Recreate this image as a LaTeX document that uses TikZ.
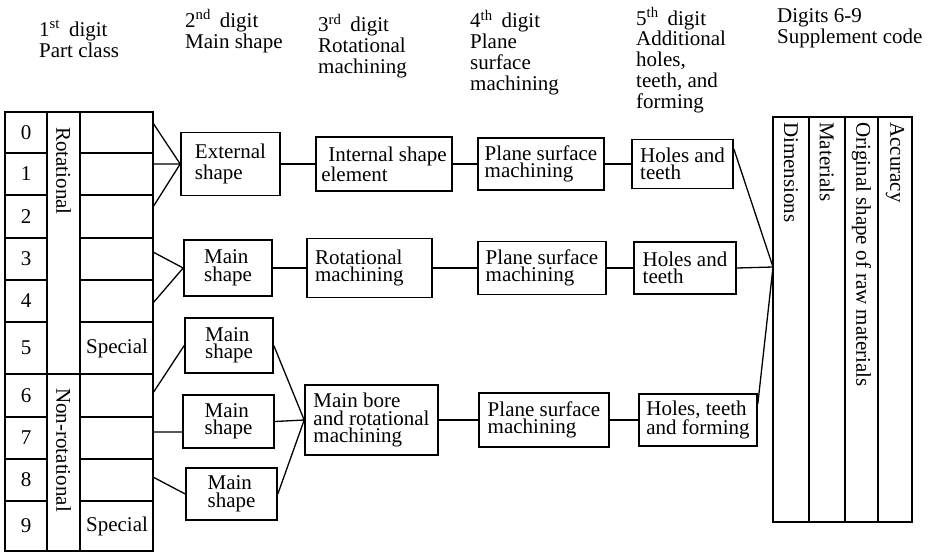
\documentclass[tikz,border=0pt]{standalone}
\usepackage{fontspec}
\setmainfont{Liberation Serif}
\usetikzlibrary{calc}
\begin{document}
\begin{tikzpicture}[x=1pt,y=-1pt,
  hdr/.style={anchor=base west, align=left, inner sep=0pt, font=\fontsize{21}{20.7}\selectfont},
  bx/.style={draw, line width=1.6pt, inner sep=0pt, align=left, font=\fontsize{21}{17.5}\selectfont},
  conn/.style={line width=1.3pt},
  grid/.style={line width=1.5pt},
  vlab/.style={rotate=-90, anchor=west, inner sep=0pt, font=\fontsize{21}{21}\selectfont},
  cell/.style={inner sep=0pt, font=\fontsize{21}{21}\selectfont}]
\useasboundingbox (0,0) rectangle (931,555);

% column headings (placed by the baseline of their last line)
\node[hdr] (h1) at (39,57) {1\textsuperscript{st}\hspace{9pt}digit\\Part class};
\node[hdr] (h2) at (185,48) {2\textsuperscript{nd}\hspace{9pt}digit\\Main shape};
\node[hdr] (h3) at (318,73) {3\textsuperscript{rd}\hspace{9pt}digit\\Rotational\\machining};
\node[hdr] (h4) at (470,90) {4\textsuperscript{th}\hspace{9pt}digit\\Plane\\surface\\machining};
\node[hdr] (h5) at (636,108) {5\textsuperscript{th}\hspace{9pt}digit\\Additional\\holes,\\teeth, and\\forming};
\node[hdr] (h6) at (777,43) {Digits 6-9\\Supplement code};

% part class table
\draw[grid] (5,112) rectangle (153,551);
\draw[grid] (47,112) -- (47,551) (80,112) -- (80,551);
\foreach \yy in {153,195,238,280,322,417,459,501}
  \draw[grid] (5,\yy) -- (47,\yy) (80,\yy) -- (153,\yy);
\draw[grid] (5,374) -- (153,374);
\foreach \d/\yy in {0/132.5,1/174,2/216.5,3/259,4/301,5/348,6/395.5,7/438,8/480,9/526}
  \node[cell] (d\d) at (26,\yy) {\d};
\node[cell] (sp5) at (117,348) {Special};
\node[cell] (sp9) at (117,526) {Special};
\node[vlab] (rotl) at (63.5,127) {Rotational};
\node[vlab] (nrotl) at (63.5,388) {Non-rotational};

% supplement code table
\draw[grid] (773,117) rectangle (912,522);
\draw[grid] (809,117) -- (809,522) (845,117) -- (845,522) (878,117) -- (878,522);
\node[vlab] (dim) at (791,122) {Dimensions};
\node[vlab] (mat) at (827,122) {Materials};
\node[vlab] (orig) at (861.5,122) {Original shape of raw materials};
\node[vlab] (acc) at (895,122) {Accuracy};

% row 1
\node[bx, minimum width=99pt, minimum height=63pt, font=\fontsize{21}{21}\selectfont] (ext) at (230.5,164) {External\\shape};
\node[bx, minimum width=136pt, minimum height=54pt] (int) at (384,164) {\hspace*{7pt}Internal shape\\element};
\node[bx, minimum width=126pt, minimum height=52pt] (pl1) at (541,164) {Plane surface\\machining};
\node[bx, minimum width=101pt, minimum height=49pt] (ho1) at (682.5,164) {Holes and\\teeth};

% row 2
\node[bx, minimum width=88pt, minimum height=56pt] (ms2) at (228,268) {Main\\shape};
\node[bx, minimum height=59pt, text width=109pt, inner xsep=8pt] (rot) at (369.5,268) {Rotational\\machining};
\node[bx, minimum width=128pt, minimum height=53pt] (pl2) at (542,268) {Plane surface\\machining};
\node[bx, minimum width=102pt, minimum height=52pt] (ho2) at (685,268) {Holes and\\teeth};

% row 3
\node[bx, minimum width=88pt, minimum height=55pt] (msa) at (229,345.5) {Main\\shape};
\node[bx, minimum width=91pt, minimum height=53pt] (msb) at (228.5,421.5) {Main\\shape};
\node[bx, minimum width=91pt, minimum height=52pt] (msc) at (231.5,494) {Main\\shape};
\node[bx, minimum width=133pt, minimum height=70pt] (bore) at (371.5,420) {Main bore\\and rotational\\machining};
\node[bx, minimum width=130pt, minimum height=54pt] (pl3) at (544,420) {Plane surface\\machining};
\node[bx, minimum width=118pt, minimum height=52pt] (ho3) at (698,420) {Holes, teeth\\and forming};

% connector end points on the table edges
\coordinate (t0) at (153,123);
\coordinate (t1) at (153,164);
\coordinate (t2) at (153,207);
\coordinate (t3) at (153,252);
\coordinate (t4) at (153,303);
\coordinate (t5) at (153,393);
\coordinate (t6) at (153,432);
\coordinate (t7) at (153,477);
\coordinate (sup) at (773,267);

% connectors
\draw[conn] (t0) -- (ext.west) (t1) -- (ext.west) (t2) -- (ext.west);
\draw[conn] (t3) -- (ms2.west) (t4) -- (ms2.west);
\draw[conn] (t5) -- (msa.west) (t6) -- (t6 -| msb.west) (t7) -- (msc.west);
\draw[conn] (msa.east) -- (bore.west) (msb.east) -- (bore.west) (msc.east) -- (bore.west);
\draw[conn] (ext.east) -- (int.west) (int.east) -- (pl1.west) (pl1.east) -- (ho1.west);
\draw[conn] (ms2.east) -- (rot.west) (rot.east) -- (pl2.west) (pl2.east) -- (ho2.west);
\draw[conn] (bore.east) -- (pl3.west) (pl3.east) -- (ho3.west);
\draw[conn] ($(ho1.north east)!0.2!(ho1.south east)$) -- (sup);
\draw[conn] (ho2.east) -- (sup);
\draw[conn] ($(ho3.north east)!0.2!(ho3.south east)$) -- (sup);
\end{tikzpicture}
\end{document}
